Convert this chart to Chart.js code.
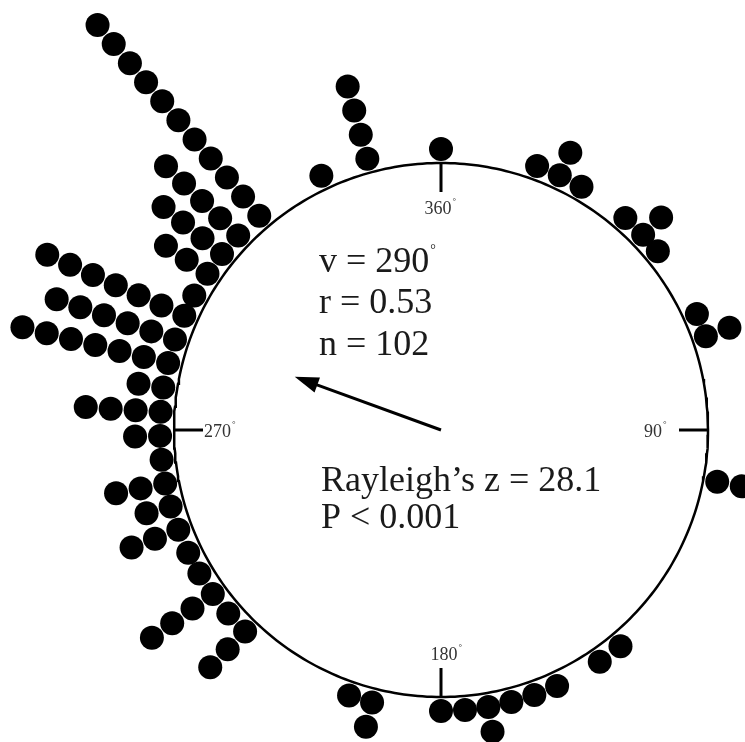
<!DOCTYPE html>
<html>
<head>
<meta charset="utf-8">
<script src="https://cdn.jsdelivr.net/npm/chart.js@4.4.1/dist/chart.umd.min.js"></script>
<style>
  html, body { margin: 0; padding: 0; background: #fff; }
  canvas { display: block; }
</style>
</head>
<body>
<canvas id="circChart" width="745" height="742"></canvas>
<script>
// direcciones (grados, sentido horario desde el norte) y número de puntos por dirección
const binAngles = [0, 20, 25, 30, 41, 46, 50.5, 65.6, 70.5, 100.6,
  140.3, 145.6, 155.6, 160.6, 165.5, 170.3, 175.1, 180, 194.2, 199.1,
  224.2, 229.2, 234.3, 239.3, 244.1, 249.2, 254.2, 259, 263.9, 268.8,
  273.7, 278.7, 283.8, 288.8, 294, 298.6, 303.8, 308.8, 313.8, 319.7,
  334.8, 344.8];
const binCounts = [1, 1, 2, 1, 1, 2, 1, 1, 2, 2,
  1, 1, 1, 1, 1, 2, 1, 1, 2, 1,
  3, 1, 4, 1, 1, 3, 2, 3, 1, 2,
  4, 2, 7, 6, 7, 1, 3, 4, 5, 11,
  1, 4];
const tickAngles = [0, 90, 180, 270];
const tickLabels = ['360', '90', '180', '270'];
const meanAngle = 290;
const meanR = 0.53;
const statLines = ['v = 290', 'r = 0.53', 'n = 102'];
const testLines = ['Rayleigh\u2019s z = 28.1', 'P < 0.001'];

// geometría (1 unidad = 1 px)
const R = 267;
const DOT = 12;
const STEP = 25;
const rad = a => a * Math.PI / 180;
const polar = (a, r) => ({ x: r * Math.sin(rad(a)), y: r * Math.cos(rad(a)) });

const dots = [];
binAngles.forEach((a, i) => {
  for (let k = 0; k < binCounts[i]; k++) dots.push(polar(a, R + DOT + 2 + k * STEP));
});

const circle = [];
for (let a = 0; a <= 360; a += 1) circle.push(polar(a, R));

const tickSets = tickAngles.map(a => ({
  data: [polar(a, R), polar(a, R - 29)],
  showLine: true, borderColor: '#000', borderWidth: 3, pointRadius: 0, clip: false
}));

const arrowLen = meanR * R * 1.1;
const headLen = 24;
const shaft = [polar(meanAngle, 0), polar(meanAngle, arrowLen - headLen + 4)];

const serif = '"Liberation Serif", "Times New Roman", serif';

function textDeg(ctx, txt, x, y, size, align, degSize, degDy) {
  ctx.font = size + 'px ' + serif;
  ctx.textAlign = align;
  ctx.fillText(txt, x, y);
  const w = ctx.measureText(txt).width;
  const right = align === 'left' ? x + w : align === 'right' ? x : x + w / 2;
  ctx.font = degSize + 'px ' + serif;
  ctx.textAlign = 'left';
  ctx.fillText('\u00B0', right + 1, y + degDy);
}

const overlay = {
  id: 'overlay',
  afterDatasetsDraw(chart) {
    const ctx = chart.ctx;
    const xs = chart.scales.x, ys = chart.scales.y;
    const px = p => ({ x: xs.getPixelForValue(p.x), y: ys.getPixelForValue(p.y) });
    const c = px({ x: 0, y: 0 });
    ctx.save();

    // punta de flecha
    const tip = px(polar(meanAngle, arrowLen));
    const base = px(polar(meanAngle, arrowLen - headLen));
    const nx = -(tip.y - base.y) / headLen, ny = (tip.x - base.x) / headLen;
    ctx.fillStyle = '#000';
    ctx.beginPath();
    ctx.moveTo(tip.x, tip.y);
    ctx.lineTo(base.x + nx * 8, base.y + ny * 8);
    ctx.lineTo(base.x - nx * 8, base.y - ny * 8);
    ctx.closePath();
    ctx.fill();

    // etiquetas de los ejes
    ctx.fillStyle = '#333';
    ctx.textBaseline = 'alphabetic';
    textDeg(ctx, tickLabels[0], c.x - 3, c.y - 216, 18, 'center', 9, -10);
    textDeg(ctx, tickLabels[1], c.x + 221, c.y + 7, 18, 'right', 9, -10);
    textDeg(ctx, tickLabels[2], c.x + 3, c.y + 230, 18, 'center', 9, -10);
    textDeg(ctx, tickLabels[3], c.x - 237, c.y + 7, 18, 'left', 9, -10);

    // estadísticos
    ctx.fillStyle = '#1a1a1a';
    textDeg(ctx, statLines[0], c.x - 122, c.y - 158, 36, 'left', 14, -18);
    ctx.font = '36px ' + serif;
    ctx.textAlign = 'left';
    ctx.fillText(statLines[1], c.x - 122, c.y - 117);
    ctx.fillText(statLines[2], c.x - 122, c.y - 75);
    ctx.font = '36px ' + serif;
    ctx.fillText(testLines[0], c.x - 120, c.y + 61);
    ctx.fillText(testLines[1], c.x - 120, c.y + 98);
    ctx.restore();
  }
};

new Chart(document.getElementById('circChart'), {
  type: 'scatter',
  data: {
    datasets: [
      { data: circle, showLine: true, borderColor: '#000', borderWidth: 2.5, pointRadius: 0, clip: false },
      ...tickSets,
      { data: shaft, showLine: true, borderColor: '#000', borderWidth: 3, pointRadius: 0, clip: false },
      { data: dots, pointRadius: DOT, pointBackgroundColor: '#000', pointBorderWidth: 0, clip: false }
    ]
  },
  options: {
    responsive: false,
    animation: false,
    layout: { padding: 0, autoPadding: false },
    scales: {
      x: { type: 'linear', min: -441, max: 304, display: false },
      y: { type: 'linear', min: -312, max: 430, display: false }
    },
    plugins: { legend: { display: false }, tooltip: { enabled: false } }
  },
  plugins: [overlay]
});
</script>
</body>
</html>
